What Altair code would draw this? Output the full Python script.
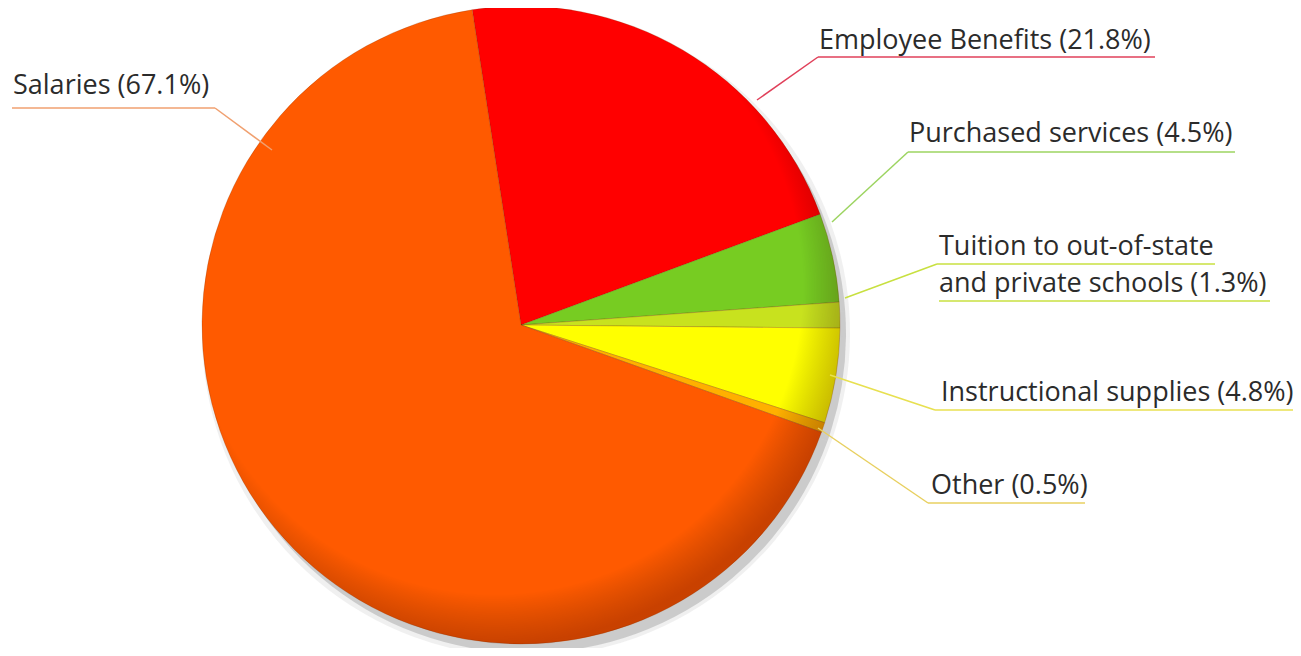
import math
import altair as alt
import pandas as pd

# ---- data ----
categories = ["Employee Benefits", "Purchased services", "Tuition to out-of-state and private schools",
              "Instructional supplies", "Other", "Salaries"]
shares = [21.8, 4.5, 1.3, 4.8, 0.5, 67.1]
colors = ["#FF0000", "#77CC22", "#C8E21E", "#FFFF00", "#FFB000", "#FF5A00"]
line_colors = ["#E0405A", "#9CD460", "#C8E040", "#E8E050", "#E8D060", "#F0A070"]
label_lines = [["Employee Benefits (21.8%)"], ["Purchased services (4.5%)"],
               ["Tuition to out-of-state", "and private schools (1.3%)"],
               ["Instructional supplies (4.8%)"], ["Other (0.5%)"], ["Salaries (67.1%)"]]

# ---- layout (page pixels) ----
M = 8
W, H = 1285, 640
CX, CY, R = 521, 325, 319
START = math.radians(-8.8)
label_x = [819, 909, 939, 941, 931, 13]
label_base = [[49], [142], [255, 292], [401], [494], [94]]
under_y = [[57], [152], [264, 301], [410], [503], [108]]
under_x2 = [[1155], [1235], [1215, 1270], [1295], [1085], [215]]
under_x1 = [818, 908, 937, 935, 928, 12]
elbow = [(818, 57), (908, 152), (937, 264), (935, 410), (928, 503), (215, 108)]
edge = [(757, 100), (832, 222), (845, 298), (830, 375), (818, 428), (272, 150)]

pie_df = pd.DataFrame({"cat": categories, "share": shares, "order": list(range(len(categories)))})

seg_rows, text_rows = [], []
for i, cat in enumerate(categories):
    seg_rows.append({"cat": cat, "x": elbow[i][0] - M, "y": elbow[i][1] - M,
                     "x2": edge[i][0] - M, "y2": edge[i][1] - M})
    for j, line in enumerate(label_lines[i]):
        x1 = under_x1[i] if j == 0 else label_x[i]
        seg_rows.append({"cat": cat, "x": x1 - M, "y": under_y[i][j] - M,
                         "x2": under_x2[i][j] - M, "y2": under_y[i][j] - M})
        text_rows.append({"cat": cat, "t": line, "x": label_x[i] - M, "y": label_base[i][j] - M})
seg_df = pd.DataFrame(seg_rows)
text_df = pd.DataFrame(text_rows)

theta_scale = alt.Scale(type="linear", domain=[0, 100], range=[START, START + 2 * math.pi])
color_scale = alt.Scale(domain=categories, range=colors)
line_scale = alt.Scale(domain=categories, range=line_colors)

base = alt.Chart(pie_df)
shadow = base.mark_arc(radius=R, color="#777777", opacity=0.30).encode(
    theta=alt.Theta("share:Q", stack=True, scale=theta_scale),
    order=alt.Order("order:Q"),
    x=alt.value(CX - M + 6), y=alt.value(CY - M + 9),
)
shadow2 = base.mark_arc(radius=R + 5, color="#999999", opacity=0.15).encode(
    theta=alt.Theta("share:Q", stack=True, scale=theta_scale),
    order=alt.Order("order:Q"),
    x=alt.value(CX - M + 5), y=alt.value(CY - M + 8),
)
pie = base.mark_arc(radius=R, stroke="#7a3000", strokeWidth=0.4, strokeOpacity=0.6).encode(
    theta=alt.Theta("share:Q", stack=True, scale=theta_scale),
    order=alt.Order("order:Q"),
    color=alt.Color("cat:N", scale=color_scale, legend=None),
    x=alt.value(CX - M), y=alt.value(CY - M),
)
rim_grad = alt.RadialGradient(
    gradient="radial",
    stops=[alt.GradientStop(color="rgba(0,0,0,0)", offset=0),
           alt.GradientStop(color="rgba(0,0,0,0)", offset=0.86),
           alt.GradientStop(color="rgba(60,0,0,0.28)", offset=1)],
    x1=0.46, y1=0.44, r1=0, x2=0.46, y2=0.44, r2=0.56,
)
rim = alt.Chart(pd.DataFrame({"a": [1]})).mark_arc(
    radius=R, theta=0, theta2=2 * math.pi, fill=rim_grad
).encode(x=alt.value(CX - M), y=alt.value(CY - M))

lines = alt.Chart(seg_df).mark_rule(strokeWidth=1.5).encode(
    x=alt.X("x:Q", scale=None), y=alt.Y("y:Q", scale=None),
    x2="x2:Q", y2="y2:Q",
    color=alt.Color("cat:N", scale=line_scale, legend=None),
)
texts = alt.Chart(text_df).mark_text(align="left", baseline="alphabetic", font="Open Sans",
                                     fontSize=27, color="#2b2b2b").encode(
    x=alt.X("x:Q", scale=None), y=alt.Y("y:Q", scale=None), text="t:N",
)

chart = alt.layer(shadow2, shadow, pie, rim, lines, texts).resolve_scale(color="independent").properties(
    width=W, height=H, padding=0, autosize="none"
).configure_view(stroke=None)

chart.save("out.html", embed_options={"renderer": "svg", "actions": False})
